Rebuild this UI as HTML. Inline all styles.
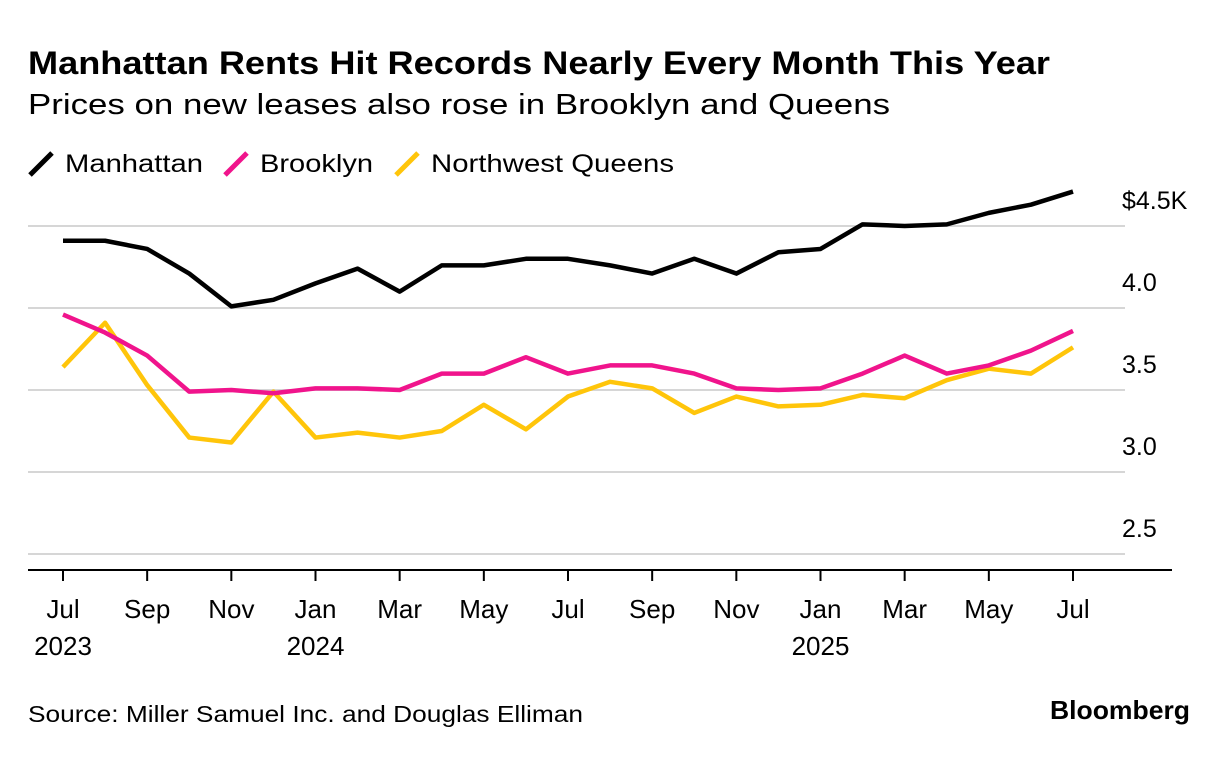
<!DOCTYPE html>
<html><head><meta charset="utf-8">
<style>
body{margin:0;background:#fff;width:1230px;height:754px;overflow:hidden;font-family:"Liberation Sans",Arial,sans-serif;}
svg text{font-family:"Liberation Sans",Arial,sans-serif;}
</style></head>
<body>
<svg id="chart" width="1230" height="754">
<text x="28" y="74" font-size="32" font-weight="bold" fill="#000" textLength="1022" lengthAdjust="spacingAndGlyphs">Manhattan Rents Hit Records Nearly Every Month This Year</text>
<text x="28" y="114" font-size="29" fill="#000" textLength="862" lengthAdjust="spacingAndGlyphs">Prices on new leases also rose in Brooklyn and Queens</text>
<g>
<g><line x1="30" y1="175" x2="52" y2="153" stroke="#000" stroke-width="5"/><text x="65" y="172" font-size="25" textLength="138" lengthAdjust="spacingAndGlyphs">Manhattan</text></g>
<g><line x1="225" y1="175" x2="247" y2="153" stroke="#f0148c" stroke-width="5"/><text x="260" y="172" font-size="25" textLength="113" lengthAdjust="spacingAndGlyphs">Brooklyn</text></g>
<g><line x1="396" y1="175" x2="418" y2="153" stroke="#ffc50a" stroke-width="5"/><text x="431" y="172" font-size="25" textLength="243" lengthAdjust="spacingAndGlyphs">Northwest Queens</text></g>
</g>
<g id="grid"></g><g id="axes"></g><g id="series"></g>
<text x="28" y="722" font-size="23" fill="#000" textLength="555" lengthAdjust="spacingAndGlyphs">Source: Miller Samuel Inc. and Douglas Elliman</text>
<text x="1190" y="719" font-size="26" font-weight="bold" text-anchor="end" fill="#000" textLength="140" lengthAdjust="spacingAndGlyphs">Bloomberg</text>
</svg>
<script>
const yTicks=[4.5,4.0,3.5,3.0,2.5];
const yTickLabels=["$4.5K","4.0","3.5","3.0","2.5"];
const xTickLabels=["Jul","Sep","Nov","Jan","Mar","May","Jul","Sep","Nov","Jan","Mar","May","Jul"];
const yearLabels=[[0,"2023"],[6,"2024"],[18,"2025"]];
const manhattan=[4.41,4.41,4.36,4.21,4.01,4.05,4.15,4.24,4.10,4.26,4.26,4.30,4.30,4.26,4.21,4.30,4.21,4.34,4.36,4.51,4.50,4.51,4.58,4.63,4.71];
const brooklyn=[3.96,3.85,3.71,3.49,3.50,3.48,3.51,3.51,3.50,3.60,3.60,3.70,3.60,3.65,3.65,3.60,3.51,3.50,3.51,3.60,3.71,3.60,3.65,3.74,3.86];
const queens=[3.64,3.91,3.53,3.21,3.18,3.49,3.21,3.24,3.21,3.25,3.41,3.26,3.46,3.55,3.51,3.36,3.46,3.40,3.41,3.47,3.45,3.56,3.63,3.60,3.76];
const NS="http://www.w3.org/2000/svg";
const x=i=>63+i*(1073-63)/24;
const y=v=>226+(4.5-v)*164;
function mk(tag,attrs,parent){const e=document.createElementNS(NS,tag);for(const k in attrs)e.setAttribute(k,attrs[k]);parent.appendChild(e);return e;}
const grid=document.getElementById('grid'),axes=document.getElementById('axes'),series=document.getElementById('series');
yTicks.forEach((v,i)=>{
 const l=mk('line',{x1:28,x2:1125,y1:y(v),y2:y(v),stroke:'#d6d6d6','stroke-width':2},grid);
 
 
 const t=mk('text',{x:1122,y:y(v)-17,'font-size':25,fill:'#000'},grid);
 t.textContent=yTickLabels[i];
 
 
});
const ax=mk('line',{x1:28,x2:1172,y1:570,y2:570,stroke:'#000','stroke-width':2},axes);


xTickLabels.forEach((s,k)=>{
 const i=k*2;
 const tk=mk('line',{x1:x(i),x2:x(i),y1:570,y2:581,stroke:'#000','stroke-width':2},axes);
 
 
 const t=mk('text',{x:x(i),y:618,'font-size':26,'text-anchor':'middle'},axes);
 t.textContent=s;
 
 
});
yearLabels.forEach(([i,s])=>{
 const t=mk('text',{x:x(i),y:655,'font-size':26,'text-anchor':'middle'},axes);
 t.textContent=s;
 
 
});
[[queens,'#ffc50a','queens-line'],[brooklyn,'#f0148c','brooklyn-line'],[manhattan,'#000','manhattan-line']].forEach(([d,c,n])=>{
 const p=mk('polyline',{points:d.map((v,i)=>x(i)+','+y(v)).join(' '),fill:'none',stroke:c,'stroke-width':4.5,'stroke-linejoin':'round'},series);
 
 
});
</script>
</body></html>
